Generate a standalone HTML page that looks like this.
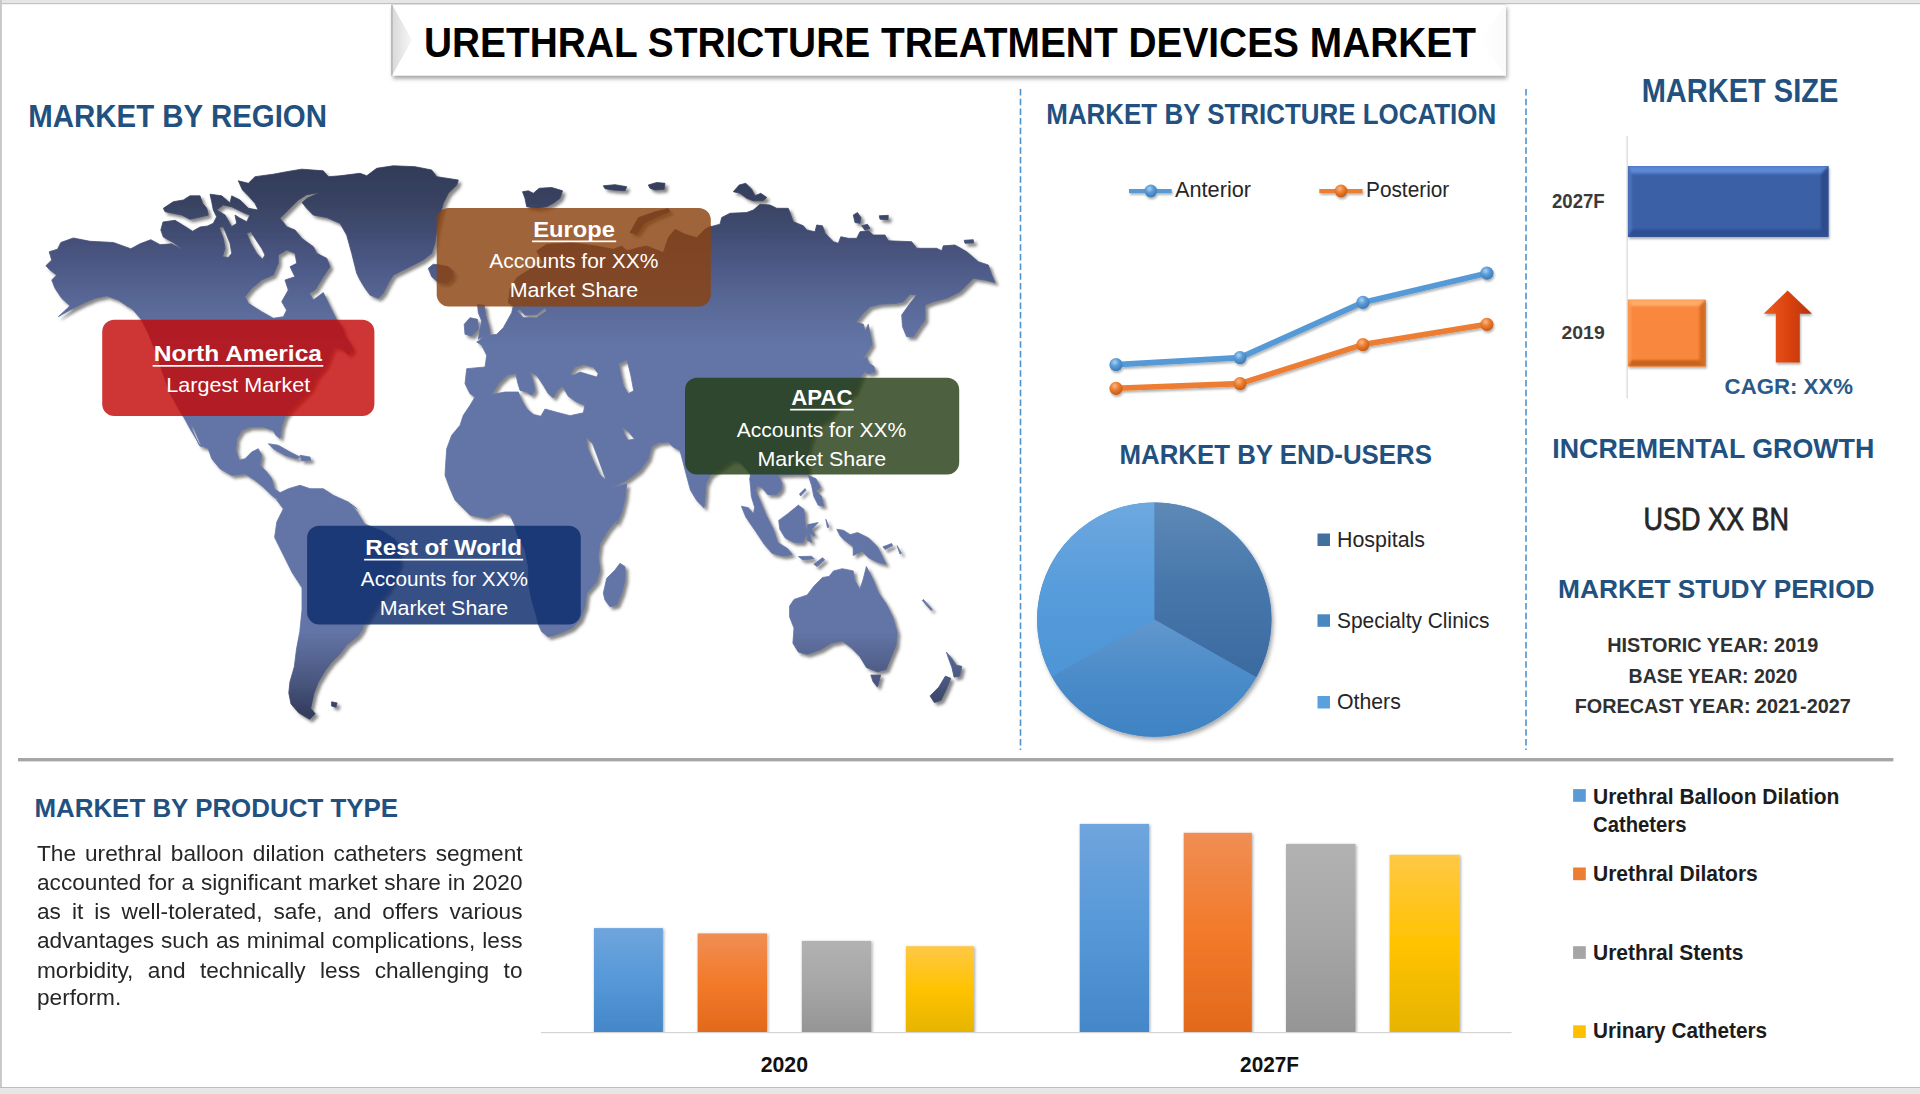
<!DOCTYPE html>
<html lang="en"><head><meta charset="utf-8"><title>Urethral Stricture Treatment Devices Market</title>
<style>
html,body{margin:0;padding:0;background:#fff;}
body{width:1920px;height:1094px;overflow:hidden;position:relative;font-family:"Liberation Sans", sans-serif;}
svg{position:absolute;left:0;top:0;display:block}
svg text{font-family:"Liberation Sans", sans-serif;}
.pl{position:absolute;left:36.5px;white-space:nowrap;color:#262626;font-size:21.2px;line-height:26px;height:26px;transform-origin:0 0;text-align:justify;text-align-last:justify;}
</style></head><body>
<svg width="1920" height="1094" viewBox="0 0 1920 1094">
<defs>
<linearGradient id="mapg" gradientUnits="userSpaceOnUse" x1="0" y1="165" x2="0" y2="722">
<stop offset="0" stop-color="#323b59"/><stop offset="0.07" stop-color="#394362"/><stop offset="0.135" stop-color="#444f77"/><stop offset="0.19" stop-color="#4e5b89"/><stop offset="0.24" stop-color="#586795"/><stop offset="0.28" stop-color="#5d6e9e"/><stop offset="0.33" stop-color="#6375a7"/><stop offset="0.835" stop-color="#6375a7"/><stop offset="0.87" stop-color="#5a6a98"/><stop offset="0.925" stop-color="#4a5780"/><stop offset="0.98" stop-color="#353f60"/><stop offset="1" stop-color="#323b59"/>
</linearGradient>
<filter id="mapsh" x="-5%" y="-5%" width="110%" height="110%"><feGaussianBlur in="SourceAlpha" stdDeviation="1.7"/><feOffset dx="3" dy="3.2" result="o"/><feFlood flood-color="#505050" flood-opacity="0.68"/><feComposite in2="o" operator="in"/><feMerge><feMergeNode/><feMergeNode in="SourceGraphic"/></feMerge></filter>
<filter id="titlesh" x="-2%" y="-20%" width="104%" height="150%"><feGaussianBlur in="SourceAlpha" stdDeviation="2"/><feOffset dx="1" dy="3" result="o"/><feFlood flood-color="#000" flood-opacity="0.38"/><feComposite in2="o" operator="in"/><feMerge><feMergeNode/><feMergeNode in="SourceGraphic"/></feMerge></filter>
<filter id="softsh" x="-10%" y="-10%" width="125%" height="125%"><feGaussianBlur in="SourceAlpha" stdDeviation="2.2"/><feOffset dx="1.5" dy="2.5" result="o"/><feFlood flood-color="#000" flood-opacity="0.35"/><feComposite in2="o" operator="in"/><feMerge><feMergeNode/><feMergeNode in="SourceGraphic"/></feMerge></filter>
<filter id="barsh" x="-10%" y="-10%" width="125%" height="125%"><feGaussianBlur in="SourceAlpha" stdDeviation="1.3"/><feOffset dx="0.5" dy="1.5" result="o"/><feFlood flood-color="#000" flood-opacity="0.3"/><feComposite in2="o" operator="in"/><feMerge><feMergeNode/><feMergeNode in="SourceGraphic"/></feMerge></filter>
<filter id="linesh" x="-5%" y="-20%" width="110%" height="150%"><feGaussianBlur in="SourceAlpha" stdDeviation="1.2"/><feOffset dx="0.5" dy="2" result="o"/><feFlood flood-color="#000" flood-opacity="0.3"/><feComposite in2="o" operator="in"/><feMerge><feMergeNode/><feMergeNode in="SourceGraphic"/></feMerge></filter>
<filter id="pbsh" x="-10%" y="-10%" width="120%" height="120%"><feGaussianBlur in="SourceAlpha" stdDeviation="1.6"/><feOffset dx="0.6" dy="0.5" result="o"/><feFlood flood-color="#000" flood-opacity="0.35"/><feComposite in2="o" operator="in"/><feMerge><feMergeNode/><feMergeNode in="SourceGraphic"/></feMerge></filter>
<clipPath id="pbclip"><rect x="540" y="800" width="980" height="232"/></clipPath>
<filter id="bl1"><feGaussianBlur stdDeviation="1.1"/></filter>
<linearGradient id="bevL" x1="0" y1="0" x2="1" y2="0"><stop offset="0" stop-color="#d8d8d8"/><stop offset="1" stop-color="#f8f8f8"/></linearGradient>
<linearGradient id="bevR" x1="1" y1="0" x2="0" y2="0"><stop offset="0" stop-color="#fafafa"/><stop offset="1" stop-color="#ffffff"/></linearGradient>
<linearGradient id="gBlue" x1="0" y1="0" x2="0" y2="1"><stop offset="0" stop-color="#6fa5dd"/><stop offset="0.5" stop-color="#5698d8"/><stop offset="1" stop-color="#4487c8"/></linearGradient>
<linearGradient id="gOr" x1="0" y1="0" x2="0" y2="1"><stop offset="0" stop-color="#f08e54"/><stop offset="0.5" stop-color="#f27a2a"/><stop offset="1" stop-color="#e2691b"/></linearGradient>
<linearGradient id="gGr" x1="0" y1="0" x2="0" y2="1"><stop offset="0" stop-color="#b2b2b2"/><stop offset="0.5" stop-color="#a6a6a6"/><stop offset="1" stop-color="#959595"/></linearGradient>
<linearGradient id="gYe" x1="0" y1="0" x2="0" y2="1"><stop offset="0" stop-color="#ffc845"/><stop offset="0.5" stop-color="#ffc300"/><stop offset="1" stop-color="#e6b400"/></linearGradient>
<linearGradient id="pie1" x1="0" y1="0" x2="0" y2="1"><stop offset="0" stop-color="#5e89b7"/><stop offset="0.5" stop-color="#4676aa"/><stop offset="1" stop-color="#3a6a9f"/></linearGradient>
<linearGradient id="pie2" x1="0" y1="0" x2="0" y2="1"><stop offset="0" stop-color="#6297cd"/><stop offset="0.5" stop-color="#4a8bc9"/><stop offset="1" stop-color="#3f83c4"/></linearGradient>
<linearGradient id="pie3" x1="0" y1="0" x2="0" y2="1"><stop offset="0" stop-color="#6ea8e0"/><stop offset="0.5" stop-color="#579cdb"/><stop offset="1" stop-color="#4d95d6"/></linearGradient>
<radialGradient id="mkB" cx="0.4" cy="0.32" r="0.7"><stop offset="0" stop-color="#a8d2f5"/><stop offset="0.45" stop-color="#5b9bd5"/><stop offset="1" stop-color="#3a78b5"/></radialGradient>
<radialGradient id="mkO" cx="0.4" cy="0.32" r="0.7"><stop offset="0" stop-color="#fbb884"/><stop offset="0.45" stop-color="#ed7d31"/><stop offset="1" stop-color="#c25a12"/></radialGradient>
<linearGradient id="arr" x1="0" y1="0" x2="1" y2="0"><stop offset="0" stop-color="#ee5a22"/><stop offset="0.55" stop-color="#d8420d"/><stop offset="1" stop-color="#b53205"/></linearGradient>
</defs>
<rect x="0" y="0" width="1920" height="1094" fill="#fff"/>
<rect x="0" y="0" width="1920" height="3" fill="#e6e6e6"/><rect x="0" y="3" width="1920" height="1.2" fill="#c2c2c2"/>
<rect x="0" y="0" width="1.9" height="1088" fill="#c8c8c8"/>
<rect x="0" y="1087" width="1920" height="1.2" fill="#bdbdbd"/><rect x="0" y="1088.2" width="1920" height="6" fill="#e6e6e6"/>
<rect x="18" y="758" width="1875.4" height="3.4" fill="#a6a6a6"/>
<line x1="1020.5" y1="89" x2="1020.5" y2="750" stroke="#4f93cf" stroke-width="1.6" stroke-dasharray="6.5 3.2"/>
<line x1="1526" y1="89" x2="1526" y2="750" stroke="#4f93cf" stroke-width="1.6" stroke-dasharray="6.5 3.2"/>
<g filter="url(#mapsh)"><path d="M45.8 265.8 L51.7 260 L49.2 251.7 L57.5 249.2 L60.8 242.5 L73.3 238 L90 241.3 L113.3 242.5 L130.8 248.8 L140 243.8 L150.8 239.7 L160 244.7 L171.7 243.8 L184.2 250.8 L173.3 242.5 L163.3 237 L160.8 230 L163 222 L175 220.3 L186.7 227.5 L192.5 231.3 L200 227 L207.5 226 L213.3 223.3 L216.7 216.7 L213.3 210 L211.7 201.7 L210 194.2 L221.7 195.8 L230 203 L231.7 195.8 L240 200 L248.3 208.3 L258.3 210 L255 203.3 L248.3 195.8 L242.5 190 L238.3 180.8 L248.3 183.3 L255 176.7 L273.3 174.2 L286.7 171.7 L301.7 169.2 L323.3 170.8 L328.3 176.7 L340 175.8 L360 173.3 L366.7 175.8 L376.7 168.3 L393.3 165.8 L415 166.7 L431.7 170 L436.7 176.7 L458.3 180 L456.7 185 L448.3 193.3 L443.3 203.3 L440 215 L436.7 230 L435 243.3 L431.7 253.3 L423.3 260 L410 266.7 L393.3 275 L388.3 283.3 L383.3 293.3 L378.3 298.3 L370 295 L365 288.3 L360 280 L356.7 273.3 L351.7 253.3 L346.7 235 L340 223.3 L326.7 217.5 L313.3 215 L306.7 208.3 L302 202.5 L307.5 198 L320 192.5 L306.7 194.7 L298.3 200 L290 208.3 L280 218.3 L286.7 226.7 L295 230 L301.7 238.3 L313.3 246.7 L316.7 253.3 L326.7 258.3 L330 266.7 L323.3 276.7 L315 290 L309.2 293.3 L313.3 300 L323.3 292.5 L330 306.7 L336.7 320 L341.7 326.7 L345 336.7 L350 343.3 L353.3 350 L348.3 355 L341.7 348.3 L333.3 346.7 L330 355 L325 366.7 L316.7 376.7 L310 390 L300 400 L291.7 408.3 L285 416.7 L281.7 426.7 L280 438.3 L275.8 435.3 L273.3 430.3 L263.3 427 L250 427 L241.7 430.3 L236.7 438.7 L235.8 450.3 L239.2 460.3 L245 458.7 L251.7 452 L258.3 448.7 L261.7 455.3 L260 465.3 L266.7 472 L271.7 478.7 L274.2 488.7 L280 492.8 L288.3 488.7 L300 485.3 L310 488.7 L323.3 488.7 L333.3 495.3 L348.3 502 L356.7 508.7 L351.3 504.4 L357.9 513.2 L364.5 524.1 L383.1 531.4 L395 539.7 L398.6 549.2 L399.8 563.4 L395 576.5 L387.9 590.8 L383.1 595.5 L376 605 L368.9 616.9 L364.1 624 L362.3 629.4 L357.9 636 L346.9 644.7 L340.4 653.5 L331.6 662.3 L325 671.1 L318.4 682 L314 693 L310.7 708.3 L315.1 713.8 L309.6 719.3 L298.7 712.7 L291 703.9 L288.8 693 L289.9 682 L294.3 666.7 L296.5 649.1 L299.8 631.6 L302 609.6 L302 587.7 L292.1 572.4 L283.3 554.8 L274.6 537.3 L276.8 521.9 L283.3 508.8 L276.8 500 L278.3 500.3 L271.7 495.3 L263.3 487 L255 480.3 L245 473.7 L231.7 475.3 L220 468.7 L211.7 458.7 L208.3 448.7 L200 445.3 L190 428.7 L183.3 416.2 L183.3 416.7 L178.3 408.3 L170 393.3 L161.7 370 L155 350 L148.3 333.3 L141.7 320 L133.3 310 L120 300 L128.3 306.7 L118.3 300 L106.7 295.8 L95 298.3 L83.3 303.3 L73.3 308.3 L58.3 316.7 L70 305.8 L61.7 298.3 L55 288.3 L51.7 280 L56.7 275 L50 270ZM286.7 250 L295 253.3 L296.7 263.3 L290 266.7 L295 276.7 L285 280 L288.3 290 L281.7 301.7 L286.7 310 L283.3 316.7 L273.3 318.3 L261.7 311.7 L248.3 303.3 L245 296.7 L251.7 288.3 L261.7 280 L273.3 275 L278.3 263.3 L278.3 255ZM219.2 227.5 L223.3 226.7 L226.7 235 L230 243.3 L231.7 253.3 L228.3 257.5 L222.5 256.7 L225 248.3 L223.3 238.3ZM246.7 233.3 L250.8 231.7 L255 238.3 L261.7 248.3 L265 255 L262.5 259.2 L256.7 253.3 L250.8 243.3ZM216.7 210 L225 215 L231.7 226.7 L236.7 223.3 L235 215 L240 218.3 L246.7 221.7 L250 215 L245 213.3 L238.3 210 L231.7 206.7 L223.3 205ZM190.8 423.7 L194.2 428.7 L201.7 447 L199.2 445.3 L192.5 430.3ZM163.3 208.3 L173.3 201.7 L183.3 200 L190 195.8 L200 195.8 L202.5 203.3 L206.7 208.3 L208.3 215 L198.3 217.5 L190 219.2 L181.7 215 L173.3 213.3 L165 211.7ZM268.3 443.7 L278.3 445.3 L290 452 L300 457 L296.7 458.7 L285 455.3 L273.3 448.7ZM300 455.3 L310 457 L310.8 460.3 L301.7 460.7ZM331.6 701.8 L337.1 702.9 L336 707.2 L331.6 706.1ZM428.3 268.3 L433.3 264.2 L440 265 L448.3 266.7 L453.3 271.7 L452.5 278.3 L446.7 283.3 L438.3 282.5 L431.7 276.7ZM522.5 191.7 L528.3 190.8 L533.3 193.3 L539.2 188.3 L551.7 187.5 L562.5 190.8 L560 198.3 L553.3 203.3 L546.7 206.7 L536.7 208.3 L526.7 206.7 L525 198.3ZM603.3 185.8 L615 184.7 L626.7 186.7 L625 190.8 L613.3 190 L605 188.7ZM648.3 185 L656.7 182.5 L665 183.3 L664.2 189.2 L655 190 L650 188.3ZM475 397 L470 393.7 L465 383.7 L466.7 368.7 L485 367 L486.7 355.3 L481.7 345.3 L476.7 342 L478.3 341 L485 336 L496.7 334.3 L503.3 327.7 L511.7 312.7 L513.3 306 L508.3 302.7 L510 289.3 L516.7 277.7 L530 269.3 L543.3 262.7 L536.7 251 L546.7 244.3 L571.7 242.7 L596.7 246 L613.3 249.3 L621.7 246 L626.7 251 L638.3 247.7 L646.7 246 L663.3 252.7 L668.3 237.7 L675 229.3 L685 234.3 L696.7 237.7 L705 229.3 L710.8 226 L710.5 226.7 L720 224.2 L721.7 217.5 L730 213.3 L746.7 212.5 L753.3 210 L760 204.2 L770 205 L776.7 208.3 L788.3 208.3 L793.3 221.7 L803.3 225.8 L806.7 230 L815 231.7 L816.7 225 L822.5 225.8 L825 233.3 L833.3 241.7 L838.3 243.3 L840.8 236.7 L848.3 238.3 L856.7 238.3 L860 231.7 L868.3 230.8 L873.3 235 L885 235 L888.3 240.8 L911.7 241.7 L916.7 248.3 L936.7 248.3 L941.7 250.8 L943.3 245.8 L955 245 L966.7 251.7 L978.3 261.7 L988.3 265 L991.7 275 L995 282.5 L985 280 L973.3 278.3 L966.7 285 L960 291.7 L946.7 298.3 L933.3 301.7 L925 305 L925 320 L920 326.7 L913.3 336.7 L906.7 336.7 L902.5 326.7 L901.7 315 L910 303.3 L916.7 295 L910 294.2 L903.3 301.7 L896.7 303.3 L880 304.2 L870 306.7 L863.3 313.3 L855.8 322.5 L863.3 324.2 L865 331.7 L868.3 324.2 L871.7 342 L871.9 344.6 L866.7 352.9 L862.5 359.2 L866.7 357.1 L868.8 363.3 L874 366.5 L875 371.7 L868.8 373.8 L864.6 371.7 L861.5 375.8 L855 392 L838.3 405.3 L830 417 L816.7 425.3 L810 442 L806.7 458.7 L808.3 473.7 L807.1 474.4 L794.6 474.2 L777.9 474.9 L782 483.2 L781.3 489.7 L776.5 494.6 L767.7 494.6 L762.2 487.5 L756.8 485.8 L755.7 490.8 L760 500.7 L765.5 513.9 L773.2 529.2 L777.6 542.4 L787.5 548.5 L792.3 554.4 L783.1 556 L772.1 553.3 L764.4 544.6 L755.7 531.4 L745.8 517.1 L741.4 506.2 L748.4 507.7 L753.5 513.9 L754.6 507.3 L751.3 496.3 L750.6 487.5 L749.7 478.8 L750.6 474.8 L746.7 469.2 L738.3 460.8 L732.1 459.8 L721.7 467.1 L710.2 475.4 L706 483.8 L705 498.3 L704 507.7 L696.7 500.4 L690.4 490 L686.2 474.4 L680 450.4 L673.3 447 L668.3 442 L658.3 442.8 L651.7 446.2 L650 452 L648.3 458.7 L640 470.3 L626.7 480.3 L611.7 487.8 L620 485.7 L626.7 484 L625 498.7 L621.7 512 L616.7 524 L618.3 518.3 L608.3 530 L600 543.3 L598.3 556.7 L600 570 L596.7 581.7 L586.7 593.3 L585 606.7 L580 620 L571.7 628.3 L560 633.3 L548.3 636.7 L541.7 631.7 L538.3 624.2 L536.7 616.7 L531.7 600 L528.3 583.3 L528.3 566.7 L525 550 L516.7 533.3 L515 525.8 L510 515 L501.7 512.5 L486.7 518.3 L470 515 L463.3 508.3 L455 500 L450 488.7 L445 475.3 L445.8 462 L446.7 448.7 L451.7 435.3 L460 425.3 L463.3 415.3 L470 405.3ZM491.7 394.5 L499.2 382.8 L507.5 375 L515.8 373.3 L517.5 382 L520 390.3 L526.7 392 L531.7 395.3 L535 390.3 L533.3 382 L530 372 L536.7 375.3 L543.3 385.3 L548.3 393.7 L553.3 397.8 L557.5 390.3 L562.5 386.2 L568.3 396.2 L576.7 402 L585 405.3 L583.3 412.8 L570 415.7 L556.7 412.3 L545 409 L540.8 416.2 L533.3 414.5 L526.7 408.7 L521.7 400.3 L518.3 392 L505 392ZM570 374.5 L575 367 L583.3 364.5 L593.3 367 L598.3 373.7 L596.7 377 L588.3 374.5 L580 372 L573.3 375.3ZM618.7 363.7 L627 359.7 L630.8 375.3 L633.7 390.7 L628.3 393.7 L623.3 385.7 L620.5 373.7ZM586 436.7 L592.5 443.3 L598.3 458.7 L606 480 L600 475 L593 460.7 L588 448.7ZM622.3 426.7 L628.7 432 L634.7 439 L628 440.3 L624.2 434ZM516.7 311 L523.3 317.7 L536.7 317.7 L546.7 311 L545 307.7 L536.7 314.3 L525 315.2 L520 309.3ZM464.2 324.3 L470 317.7 L477.5 319.3 L478.3 329.3 L471.7 336 L465 334.3ZM477.5 304.3 L484.2 305.2 L485.8 316 L488.7 326 L490.3 334.3 L483.3 336.8 L478.3 339.3 L480 329.3 L481.7 321 L478.3 312.7ZM603.3 593.3 L606.7 578.3 L615 570 L620 563.3 L625 566.7 L625 580 L621.7 593.3 L616.7 605 L610 606.7 L605 600ZM733.3 191.7 L739.2 185 L745.8 183.3 L751.7 189.2 L755 195.8 L760.8 193.3 L766.7 197.5 L763.3 200.8 L753.3 200.8 L746.7 198.3 L740 193.3ZM853.3 215 L857.5 212.5 L860.8 217.5 L860 223.3 L855 222.5ZM861.7 225.8 L867.5 224.2 L870 228.3 L865 230.3ZM879.2 215.8 L888.3 215.3 L888 219.7 L880 219.2ZM964.2 240.3 L973.3 239.7 L973.7 243 L965 243.3ZM630 232.7 L638.3 217.7 L655 211.8 L668.3 208.5 L670 211.8 L656.7 216.8 L645 222.7 L636.7 234.3ZM798.4 556.6 L811.6 556.2 L814.2 558.8 L802.8 559.9ZM813.8 564.3 L822.5 557.7 L824.7 559.9 L817.1 566.5ZM778.7 520.4 L787.5 513.9 L798.4 505.1 L803.9 509.5 L805 522.6 L807.2 533.6 L802.8 542.4 L794 542.4 L785.3 538 L779.8 529.2ZM807.2 524.8 L818.2 522.6 L811.6 529.2 L814.9 535.8 L809.4 533.6 L811.6 542.4 L807.2 540.2ZM808.3 475.5 L816 478.8 L820.4 487.5 L816 490.8 L821.4 496.3 L823.6 506.2 L818.2 505.1 L813.8 496.3 L811.6 485.4ZM799.5 494.1 L805 488.6 L806.1 490.2 L800.6 495.9ZM825.8 519.3 L829.1 527 L827.4 527.5ZM836.8 529.2 L843.4 530.3 L850 534.7 L857.6 532.5 L868.6 538 L877.4 546.8 L881.8 555.5 L886.1 564.3 L877.4 562.1 L868.6 557.7 L862 551.1 L853.2 555.5 L853.2 546.8 L844.5 540.2 L840.1 535.8ZM882.9 546.8 L891.6 543.5 L892.7 545.7 L885 549.4ZM897.1 545.7 L901.5 553.3 L900 554ZM789.6 606 L794 599.4 L807.2 595 L813.8 586.2 L822.5 577.5 L829.1 576.4 L833.5 570.9 L842.3 568.7 L853.2 570.9 L854.3 579.6 L859.8 589.5 L863.1 579.6 L866.4 566.5 L873 579.6 L878.5 592.8 L886.1 603.8 L892.7 616.9 L897.1 632.3 L896 645.4 L890.5 658.6 L886.1 669.6 L877.4 671.8 L866.4 667.4 L859.8 656.4 L851.1 647.6 L842.3 641.1 L831.3 643.2 L820.4 649.8 L807.2 654.2 L798.4 652 L792.9 643.2 L794 627.9 L789.6 616.9ZM870.8 675 L880.7 675 L877.4 687.1 L873 681.6ZM923.4 599.4 L932.2 609.3 L931.1 610.4 L922.3 600.5ZM946.4 652 L951.9 658.6 L956.3 665.2 L961.8 666.3 L959.6 676.1 L954.1 677.2 L951.9 667.4 L948.6 658.6ZM945.4 676.1 L950.8 678.3 L946.4 689.3 L941 700.3 L934.4 702.5 L930 695.9 L938.8 687.1Z" fill="url(#mapg)" fill-rule="evenodd" stroke="url(#mapg)" stroke-width="0.8" stroke-linejoin="round"/></g>
<rect x="102.2" y="319.7" width="272.2" height="96.2" rx="12" ry="12" fill="#c30808" fill-opacity="0.82"/>
<rect x="436.7" y="208" width="274.1" height="98.4" rx="12" ry="12" fill="#8b4210" fill-opacity="0.82"/>
<rect x="685" y="377.8" width="274.2" height="96.7" rx="12" ry="12" fill="#243b14" fill-opacity="0.81"/>
<rect x="307.1" y="525.8" width="273.7" height="98.6" rx="12" ry="12" fill="#0d2c6d" fill-opacity="0.833"/>
<text x="153.8" y="360.8" font-size="22.7" font-weight="bold" fill="#ffffff" textLength="168.2" lengthAdjust="spacingAndGlyphs" >North America</text><rect x="152.6" y="365.0" width="170.7" height="1.7" fill="#fff"/>
<text x="166.2" y="392.0" font-size="20.3" font-weight="normal" fill="#ffffff" textLength="144.1" lengthAdjust="spacingAndGlyphs" >Largest Market</text>
<text x="533.3" y="236.8" font-size="22.1" font-weight="bold" fill="#ffffff" textLength="81.7" lengthAdjust="spacingAndGlyphs" >Europe</text><rect x="532.1" y="240.5" width="84.1" height="1.7" fill="#fff"/>
<text x="489.2" y="268.0" font-size="20.1" font-weight="normal" fill="#ffffff" textLength="169.1" lengthAdjust="spacingAndGlyphs" >Accounts for XX%</text>
<text x="509.7" y="297.3" font-size="20.1" font-weight="normal" fill="#ffffff" textLength="128.6" lengthAdjust="spacingAndGlyphs" >Market Share</text>
<text x="791.3" y="405.0" font-size="22.4" font-weight="bold" fill="#ffffff" textLength="61.2" lengthAdjust="spacingAndGlyphs" >APAC</text><rect x="790.1" y="408.8" width="63.6" height="1.7" fill="#fff"/>
<text x="736.7" y="436.7" font-size="20.1" font-weight="normal" fill="#ffffff" textLength="169.6" lengthAdjust="spacingAndGlyphs" >Accounts for XX%</text>
<text x="757.5" y="465.7" font-size="20.1" font-weight="normal" fill="#ffffff" textLength="128.8" lengthAdjust="spacingAndGlyphs" >Market Share</text>
<text x="365.3" y="554.7" font-size="22.7" font-weight="bold" fill="#ffffff" textLength="156.7" lengthAdjust="spacingAndGlyphs" >Rest of World</text><rect x="364.1" y="558.8" width="159.1" height="1.7" fill="#fff"/>
<text x="360.8" y="585.8" font-size="20.1" font-weight="normal" fill="#ffffff" textLength="167.2" lengthAdjust="spacingAndGlyphs" >Accounts for XX%</text>
<text x="379.7" y="615.0" font-size="20.1" font-weight="normal" fill="#ffffff" textLength="128.6" lengthAdjust="spacingAndGlyphs" >Market Share</text>
<g filter="url(#titlesh)"><rect x="392" y="4.5" width="1114" height="71" fill="#fff"/></g>
<polygon points="392,4.5 392,75.5 412,40" fill="url(#bevL)"/>
<polygon points="1506,4.5 1506,75.5 1479,40" fill="url(#bevR)"/>
<rect x="391.4" y="4.5" width="1" height="71" fill="#9a9a9a"/><rect x="392" y="4" width="1114" height="1" fill="#dcdcdc"/>
<text x="424.0" y="56.5" font-size="42.6" font-weight="bold" fill="#000" textLength="1052.0" lengthAdjust="spacingAndGlyphs" >URETHRAL STRICTURE TREATMENT DEVICES MARKET</text>
<text x="28.3" y="126.8" font-size="31.7" font-weight="bold" fill="#22517f" textLength="298.7" lengthAdjust="spacingAndGlyphs" >MARKET BY REGION</text>
<text x="1046.3" y="124.1" font-size="28.8" font-weight="bold" fill="#22517f" textLength="449.9" lengthAdjust="spacingAndGlyphs" >MARKET BY STRICTURE LOCATION</text>
<text x="1641.7" y="102.0" font-size="33.0" font-weight="bold" fill="#22517f" textLength="196.6" lengthAdjust="spacingAndGlyphs" >MARKET SIZE</text>
<text x="1119.5" y="463.5" font-size="28.1" font-weight="bold" fill="#22517f" textLength="312.4" lengthAdjust="spacingAndGlyphs" >MARKET BY END-USERS</text>
<text x="1552.3" y="458.0" font-size="28.1" font-weight="bold" fill="#22517f" textLength="322.0" lengthAdjust="spacingAndGlyphs" >INCREMENTAL GROWTH</text>
<text x="1558.0" y="598.1" font-size="26.6" font-weight="bold" fill="#22517f" textLength="316.6" lengthAdjust="spacingAndGlyphs" >MARKET STUDY PERIOD</text>
<text x="34.4" y="817.2" font-size="26.2" font-weight="bold" fill="#22517f" textLength="363.7" lengthAdjust="spacingAndGlyphs" >MARKET BY PRODUCT TYPE</text>
<g filter="url(#linesh)"><polyline points="1116,388.3 1240,383.6 1362.9,344.6 1486.9,324.3" fill="none" stroke="#ed7d31" stroke-width="5.6" stroke-linejoin="round" stroke-linecap="round"/><circle cx="1116" cy="388.3" r="6.6" fill="url(#mkO)"/><circle cx="1240" cy="383.6" r="6.6" fill="url(#mkO)"/><circle cx="1362.9" cy="344.6" r="6.6" fill="url(#mkO)"/><circle cx="1486.9" cy="324.3" r="6.6" fill="url(#mkO)"/></g>
<g filter="url(#linesh)"><polyline points="1116,364.6 1240,357.6 1362.9,302.4 1486.9,273.2" fill="none" stroke="#559ad6" stroke-width="5.6" stroke-linejoin="round" stroke-linecap="round"/><circle cx="1116" cy="364.6" r="6.6" fill="url(#mkB)"/><circle cx="1240" cy="357.6" r="6.6" fill="url(#mkB)"/><circle cx="1362.9" cy="302.4" r="6.6" fill="url(#mkB)"/><circle cx="1486.9" cy="273.2" r="6.6" fill="url(#mkB)"/></g>
<g filter="url(#linesh)"><line x1="1129" y1="191" x2="1171.7" y2="191" stroke="#559ad6" stroke-width="4.2"/><circle cx="1150.8" cy="191" r="6.4" fill="url(#mkB)"/><line x1="1319.3" y1="191" x2="1362.6" y2="191" stroke="#ed7d31" stroke-width="4.2"/><circle cx="1341" cy="191" r="6.4" fill="url(#mkO)"/></g>
<text x="1175.0" y="197.0" font-size="21.2" font-weight="normal" fill="#262626" textLength="76.0" lengthAdjust="spacingAndGlyphs" >Anterior</text>
<text x="1366.0" y="197.0" font-size="21.2" font-weight="normal" fill="#262626" textLength="83.3" lengthAdjust="spacingAndGlyphs" >Posterior</text>
<rect x="1626.6" y="136" width="1" height="262.5" fill="#d0d0d0"/>
<g filter="url(#barsh)"><rect x="1627.9" y="166" width="200.7" height="71.1" fill="#3a60a6"/></g><clipPath id="c166"><rect x="1627.9" y="166" width="200.7" height="71.1"/></clipPath><g clip-path="url(#c166)"><g filter="url(#bl1)"><polygon points="1627.9,166 1828.6,166 1821.1,173.5 1631.65,173.5" fill="#5b88d4"/><polygon points="1828.6,166 1828.6,237.1 1821.1,229.6 1821.1,173.5" fill="#2d4c8a"/><polygon points="1627.9,237.1 1828.6,237.1 1821.1,229.6 1631.65,229.6" fill="#2f5093"/><polygon points="1627.9,166 1631.65,173.5 1631.65,229.6 1627.9,237.1" fill="#5b88d4" fill-opacity="0.5"/></g></g>
<g filter="url(#barsh)"><rect x="1627.9" y="299.6" width="78.0" height="67.0" fill="#f9873c"/></g><clipPath id="c299"><rect x="1627.9" y="299.6" width="78.0" height="67.0"/></clipPath><g clip-path="url(#c299)"><g filter="url(#bl1)"><polygon points="1627.9,299.6 1705.9,299.6 1699.4,306.1 1631.15,306.1" fill="#ffab66"/><polygon points="1705.9,299.6 1705.9,366.6 1699.4,360.1 1699.4,306.1" fill="#d46c22"/><polygon points="1627.9,366.6 1705.9,366.6 1699.4,360.1 1631.15,360.1" fill="#c9641d"/><polygon points="1627.9,299.6 1631.15,306.1 1631.15,360.1 1627.9,366.6" fill="#ffab66" fill-opacity="0.5"/></g></g>
<text x="1552.0" y="207.9" font-size="19.5" font-weight="bold" fill="#3a3a3a" textLength="52.7" lengthAdjust="spacingAndGlyphs" >2027F</text>
<text x="1561.5" y="339.2" font-size="19.2" font-weight="bold" fill="#3a3a3a" textLength="43.2" lengthAdjust="spacingAndGlyphs" >2019</text>
<g filter="url(#barsh)"><polygon points="1787.6,290.5 1812,313.8 1799.8,313.8 1799.8,362.6 1775.8,362.6 1775.8,313.8 1763.6,313.8" fill="url(#arr)"/></g>
<text x="1724.6" y="394.1" font-size="22.2" font-weight="bold" fill="#2a5a8a" textLength="128.4" lengthAdjust="spacingAndGlyphs" >CAGR: XX%</text>
<text x="1643.6" y="530.4" font-size="31.8" font-weight="normal" fill="#262626" textLength="145.4" lengthAdjust="spacingAndGlyphs" stroke="#262626" stroke-width="0.8">USD XX BN</text>
<text x="1607.2" y="652.3" font-size="20.1" font-weight="bold" fill="#303030" textLength="211.1" lengthAdjust="spacingAndGlyphs" >HISTORIC YEAR: 2019</text>
<text x="1628.6" y="682.7" font-size="20.1" font-weight="bold" fill="#303030" textLength="168.7" lengthAdjust="spacingAndGlyphs" >BASE YEAR: 2020</text>
<text x="1574.7" y="712.9" font-size="20.1" font-weight="bold" fill="#303030" textLength="276.1" lengthAdjust="spacingAndGlyphs" >FORECAST YEAR: 2021-2027</text>
<g filter="url(#softsh)"><circle cx="1154.3" cy="619.6" r="117.2" fill="#4a8bc9"/></g>
<path d="M1154.3 619.6 L1154.30 502.40 A117.2 117.2 0 0 1 1256.31 677.31Z" fill="url(#pie1)"/><path d="M1154.3 619.6 L1256.31 677.31 A117.2 117.2 0 0 1 1051.79 676.42Z" fill="url(#pie2)"/><path d="M1154.3 619.6 L1051.79 676.42 A117.2 117.2 0 0 1 1154.30 502.40Z" fill="url(#pie3)"/>
<rect x="1317.5" y="533.5" width="12.5" height="12.5" fill="#41709f"/>
<text x="1337.0" y="547.4" font-size="21.7" font-weight="normal" fill="#262626" textLength="88.0" lengthAdjust="spacingAndGlyphs" >Hospitals</text>
<rect x="1317.5" y="614.3" width="12.5" height="12.5" fill="#4a86c0"/>
<text x="1337.0" y="627.6" font-size="21.7" font-weight="normal" fill="#262626" textLength="152.4" lengthAdjust="spacingAndGlyphs" >Specialty Clinics</text>
<rect x="1317.5" y="696" width="12.5" height="12.5" fill="#5ba0de"/>
<text x="1337.0" y="708.5" font-size="21.7" font-weight="normal" fill="#262626" textLength="63.8" lengthAdjust="spacingAndGlyphs" >Others</text>
<rect x="541" y="1032" width="970.6" height="1.2" fill="#d4d4d4"/>
<g filter="url(#pbsh)" clip-path="url(#pbclip)"><rect x="593.9" y="928.1" width="69.0" height="103.9" fill="url(#gBlue)"/><rect x="697.6" y="933.4" width="69.5" height="98.6" fill="url(#gOr)"/><rect x="801.8" y="940.9" width="69.5" height="91.1" fill="url(#gGr)"/><rect x="905.8" y="946.2" width="68.1" height="85.8" fill="url(#gYe)"/><rect x="1079.7" y="823.9" width="69.3" height="208.1" fill="url(#gBlue)"/><rect x="1183.7" y="832.8" width="68.1" height="199.2" fill="url(#gOr)"/><rect x="1286" y="843.9" width="69.5" height="188.1" fill="url(#gGr)"/><rect x="1389.6" y="854.8" width="70.1" height="177.2" fill="url(#gYe)"/></g>
<text x="760.7" y="1072.1" font-size="21.4" font-weight="bold" fill="#111" textLength="47.3" lengthAdjust="spacingAndGlyphs" >2020</text>
<text x="1240.1" y="1072.1" font-size="21.4" font-weight="bold" fill="#111" textLength="58.9" lengthAdjust="spacingAndGlyphs" >2027F</text>
<rect x="1573.1" y="789.1" width="12.7" height="12.7" fill="#5b9bd5"/>
<rect x="1573.1" y="867.5" width="12.7" height="12.7" fill="#ed7d31"/>
<rect x="1573.1" y="946.2" width="12.7" height="12.7" fill="#a5a5a5"/>
<rect x="1573.1" y="1025.3" width="12.7" height="12.7" fill="#ffc000"/>
<text x="1593.0" y="803.7" font-size="21.2" font-weight="bold" fill="#1c1c1c" textLength="246.4" lengthAdjust="spacingAndGlyphs" >Urethral Balloon Dilation</text>
<text x="1593.0" y="832.3" font-size="21.2" font-weight="bold" fill="#1c1c1c" textLength="93.5" lengthAdjust="spacingAndGlyphs" >Catheters</text>
<text x="1593.0" y="881.3" font-size="21.2" font-weight="bold" fill="#1c1c1c" textLength="164.8" lengthAdjust="spacingAndGlyphs" >Urethral Dilators</text>
<text x="1593.0" y="960.0" font-size="21.2" font-weight="bold" fill="#1c1c1c" textLength="150.5" lengthAdjust="spacingAndGlyphs" >Urethral Stents</text>
<text x="1593.0" y="1038.1" font-size="21.2" font-weight="bold" fill="#1c1c1c" textLength="174.1" lengthAdjust="spacingAndGlyphs" >Urinary Catheters</text>
</svg>
<div class="pl" style="top:840.8px;transform:scaleX(1.068);width:454.6px;">The urethral balloon dilation catheters segment</div>
<div class="pl" style="top:870.0px;transform:scaleX(1.068);width:454.6px;">accounted for a significant market share in 2020</div>
<div class="pl" style="top:899.1px;transform:scaleX(1.068);width:454.6px;">as it is well-tolerated, safe, and offers various</div>
<div class="pl" style="top:928.3px;transform:scaleX(1.068);width:454.6px;">advantages such as minimal complications, less</div>
<div class="pl" style="top:957.5px;transform:scaleX(1.068);width:454.6px;">morbidity, and technically less challenging to</div>
<div class="pl" style="top:984.6px;transform:scaleX(1.068);text-align-last:left;">perform.</div>
</body></html>
